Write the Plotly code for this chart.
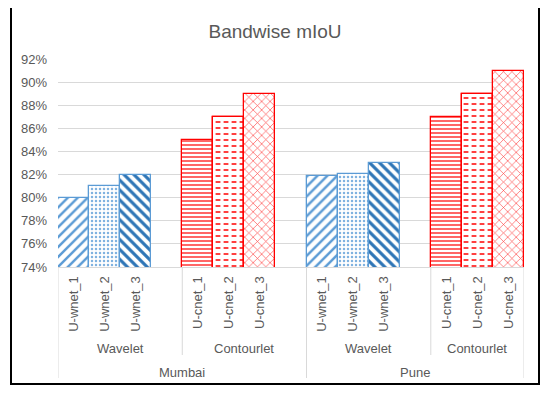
import plotly.graph_objects as go

# ---------------- data ----------------
cities = ["Mumbai", "Pune"]
bands = ["Wavelet", "Contourlet"]
wavelet_models = ["U-wnet_1", "U-wnet_2", "U-wnet_3"]
contourlet_models = ["U-cnet_1", "U-cnet_2", "U-cnet_3"]
mumbai_wavelet = [80.0, 81.0, 82.0]
mumbai_contourlet = [85.0, 87.0, 89.0]
pune_wavelet = [81.9, 82.05, 83.0]
pune_contourlet = [87.0, 89.0, 91.0]
y_ticks = [74, 76, 78, 80, 82, 84, 86, 88, 90, 92]
y_tick_labels = ["74%", "76%", "78%", "80%", "82%", "84%", "86%", "88%", "90%", "92%"]

values = {
    ("Mumbai", "Wavelet"): mumbai_wavelet,
    ("Mumbai", "Contourlet"): mumbai_contourlet,
    ("Pune", "Wavelet"): pune_wavelet,
    ("Pune", "Contourlet"): pune_contourlet,
}
band_models = {"Wavelet": wavelet_models, "Contourlet": contourlet_models}

# styles per model
BLUE = "#5B9BD5"
DBLUE = "#2E75B6"
RED = "#FF0000"
styles = {
    "U-wnet_1": dict(line=BLUE, fg=BLUE, shape="/", size=7, sol=0.35),
    "U-wnet_2": dict(line=BLUE, fg="#7FB2E0", shape=".", size=4, sol=0.3),
    "U-wnet_3": dict(line=BLUE, fg=DBLUE, shape="\\", size=7, sol=0.45),
    "U-cnet_1": dict(line=RED, fg=RED, shape="-", size=4, sol=0.3),
    "U-cnet_2": dict(line=RED, fg=RED, shape="-", size=6, sol=0.25),
    "U-cnet_3": dict(line=RED, fg="#FF4040", shape="x", size=6, sol=0.2),
}

# ---------------- positions (slots, with a blank slot between groups) ----------------
pos = 0
model_x = {m: [] for m in wavelet_models + contourlet_models}
model_y = {m: [] for m in wavelet_models + contourlet_models}
tickvals, ticktext = [], []
group_spans = []   # (city, band, start, end)
city_spans = {}
n_groups = len(cities) * len(bands)
g = 0
for c in cities:
    cstart = pos - 0.5
    for b in bands:
        gstart = pos - 0.5
        for m, v in zip(band_models[b], values[(c, b)]):
            model_x[m].append(pos)
            model_y[m].append(v)
            tickvals.append(pos)
            ticktext.append(m)
            pos += 1
        g += 1
        if g < n_groups:
            pos += 1  # blank slot
        group_spans.append((c, b, gstart, pos - 0.5))
    city_spans[c] = (cstart, pos - 0.5)
x_max = pos - 0.5

fig = go.Figure()
for m in wavelet_models + contourlet_models:
    s = styles[m]
    fig.add_trace(go.Bar(
        x=model_x[m], y=model_y[m], width=1,
        marker=dict(color="white",
                    line=dict(color=s["line"], width=1.3),
                    pattern=dict(shape=s["shape"], fgcolor=s["fg"], bgcolor="white",
                                 size=s["size"], solidity=s["sol"], fillmode="replace")),
        showlegend=False, hoverinfo="x+y",
    ))
    if m == "U-cnet_2":
        # break the horizontal lines into dashes
        fig.add_trace(go.Bar(
            x=model_x[m], y=model_y[m], width=1,
            marker=dict(color="rgba(0,0,0,0)",
                        line=dict(color=s["line"], width=1.3),
                        pattern=dict(shape="|", fgcolor="white", bgcolor="rgba(0,0,0,0)",
                                     size=8, solidity=0.4, fillmode="replace")),
            showlegend=False, hoverinfo="skip",
        ))

FONT = "Liberation Sans, Arial, sans-serif"
GREY = "#595959"
GRID = "#D9D9D9"

OFF = 8  # page body margin of the browser
W, H = 550 - OFF, 393 - 2 * OFF
# target pixel positions (in the screenshot)
PL, PR, PT, PB = 58, 524, 59, 267
L, R, T, B = PL - OFF, W - (PR - OFF), PT - OFF, H - (PB - OFF)
pw, ph = W - L - R, H - T - B


def px_x(px):
    return (px - PL) / pw


def px_y(py):
    return (PB - py) / ph


shapes = []
# outer border
shapes.append(dict(type="rect", xref="paper", yref="paper",
                   x0=px_x(11), x1=px_x(539), y0=px_y(384), y1=px_y(6.5),
                   line=dict(color="black", width=2), fillcolor="rgba(0,0,0,0)", layer="below"))
# hierarchy separators
city_bounds = sorted(set([s for s, e in city_spans.values()] + [e for s, e in city_spans.values()]))
band_bounds = sorted(set([gs[2] for gs in group_spans]) - set(city_bounds))
for xb in city_bounds:
    shapes.append(dict(type="line", xref="x", yref="paper", x0=xb, x1=xb,
                       y0=0, y1=px_y(378), line=dict(color=GRID, width=1)))
for xb in band_bounds:
    shapes.append(dict(type="line", xref="x", yref="paper", x0=xb, x1=xb,
                       y0=0, y1=px_y(355), line=dict(color=GRID, width=1)))

annotations = []
for c, b, s0, s1 in group_spans:
    annotations.append(dict(text=b, x=(s0 + s1) / 2, xref="x", y=px_y(348), yref="paper",
                            showarrow=False, xanchor="center", yanchor="middle",
                            font=dict(family=FONT, size=13, color=GREY)))
for c, (s0, s1) in city_spans.items():
    annotations.append(dict(text=c, x=(s0 + s1) / 2, xref="x", y=px_y(372), yref="paper",
                            showarrow=False, xanchor="center", yanchor="middle",
                            font=dict(family=FONT, size=13, color=GREY)))

fig.update_layout(
    width=W, height=H,
    margin=dict(l=L, r=R, t=T, b=B, autoexpand=False),
    paper_bgcolor="white", plot_bgcolor="white",
    barmode="overlay", bargap=0,
    title=dict(text="Bandwise mIoU", x=(275 - OFF) / W, xref="container", xanchor="center",
               y=1 - (31 - OFF) / H, yref="container", yanchor="middle",
               font=dict(family=FONT, size=19, color=GREY)),
    font=dict(family=FONT, size=13, color=GREY),
    xaxis=dict(range=[-0.5, x_max], tickvals=tickvals, ticktext=ticktext, tickangle=-90,
               showgrid=False, zeroline=False, showline=True, linecolor=GRID, linewidth=1,
               ticks="", ticklabelstandoff=3,
               tickfont=dict(family=FONT, size=13, color=GREY), fixedrange=True),
    yaxis=dict(range=[y_ticks[0], y_ticks[-1]], tickvals=y_ticks, ticktext=y_tick_labels,
               showgrid=True, gridcolor=GRID, gridwidth=1, zeroline=False, showline=False,
               ticks="", ticklabelstandoff=10,
               tickfont=dict(family=FONT, size=13, color=GREY), fixedrange=True),
    shapes=shapes, annotations=annotations,
)

fig.write_html("out.html")
